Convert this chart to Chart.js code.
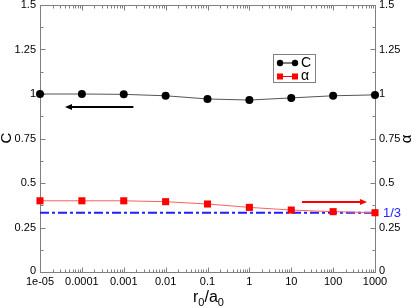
<!DOCTYPE html>
<html>
<head>
<meta charset="utf-8">
<script src="https://cdn.jsdelivr.net/npm/chart.js@4.4.1/dist/chart.umd.min.js"></script>
<style>
  html, body { margin: 0; padding: 0; background: #fff; }
  canvas { display: block; }
</style>
</head>
<body>
<canvas id="chart" width="415" height="308"></canvas>
<script>
// data
const rValues = [1e-5, 1e-4, 1e-3, 1e-2, 0.1, 1, 10, 100, 1000];
const cValues = [1.0, 1.0, 0.998, 0.99, 0.972, 0.966, 0.978, 0.99, 0.995];
const alphaValues = [0.40, 0.40, 0.40, 0.395, 0.382, 0.363, 0.348, 0.339, 0.333];
const third = 1 / 3;

const xTicks = [1e-5, 1e-4, 1e-3, 1e-2, 0.1, 1, 10, 100, 1000];
const xTickLabels = ['1e-05', '0.0001', '0.001', '0.01', '0.1', '1', '10', '100', '1000'];
const yTicks = [0, 0.25, 0.5, 0.75, 1, 1.25, 1.5];
const yTickLabels = ['0', '0.25', '0.5', '0.75', '1', '1.25', '1.5'];

// arrows: [x tail, x head, y]
const arrowC = [1.7e-3, 3.95e-5, 0.927];
const arrowAlpha = [18, 645, 0.392];

const FONT = '"Liberation Sans", Arial, Helvetica, sans-serif';
const AXIS_GREY = '#808080';

function line(ctx, x1, y1, x2, y2) {
    ctx.beginPath();
    ctx.moveTo(x1, y1);
    ctx.lineTo(x2, y2);
    ctx.stroke();
}

function arrow(ctx, x1, x2, y, color) {
    const dir = x2 > x1 ? 1 : -1;
    ctx.strokeStyle = color;
    ctx.fillStyle = color;
    ctx.lineWidth = 2;
    line(ctx, x1, y, x2 - dir * 5, y);
    ctx.beginPath();
    ctx.moveTo(x2, y);
    ctx.lineTo(x2 - dir * 7, y - 3);
    ctx.lineTo(x2 - dir * 7, y + 3);
    ctx.closePath();
    ctx.fill();
}

const framePlugin = {
    id: 'frame',
    beforeDatasetsDraw(chart) {
        const { ctx, chartArea: a, scales } = chart;
        const L = a.left + 0.5, R = a.right + 0.5, T = a.top + 0.5, B = a.bottom + 0.5;
        ctx.save();
        ctx.strokeStyle = AXIS_GREY;
        ctx.lineWidth = 1;
        ctx.strokeRect(L, T, R - L, B - T);

        // log ticks, bottom and top, pointing in
        for (let d = -5; d <= 3; d++) {
            for (let m = 1; m <= 9; m++) {
                const v = m * Math.pow(10, d);
                if (v > 1000 * 1.0001) break;
                const px = Math.round(scales.x.getPixelForValue(v)) + 0.5;
                const len = m === 1 ? 5 : 3;
                line(ctx, px, B, px, B - len);
                line(ctx, px, T, px, T + len);
            }
        }
        // linear ticks, left and right, pointing in
        for (let i = 0; i <= 12; i++) {
            const v = i * 0.125;
            const py = Math.round(scales.y.getPixelForValue(v)) + 0.5;
            const len = i % 2 === 0 ? 5 : 3;
            line(ctx, L, py, L + len, py);
            line(ctx, R, py, R - len, py);
        }
        ctx.restore();
    },
    afterDatasetsDraw(chart) {
        const { ctx, chartArea: a, scales } = chart;
        ctx.save();
        ctx.fillStyle = '#000';
        ctx.font = '11px ' + FONT;

        // x tick labels
        ctx.textAlign = 'center';
        ctx.textBaseline = 'alphabetic';
        xTicks.forEach((v, i) => {
            ctx.fillText(xTickLabels[i], scales.x.getPixelForValue(v), a.bottom + 13);
        });
        // y tick labels
        ctx.textBaseline = 'middle';
        yTicks.forEach((v, i) => {
            const py = scales.y.getPixelForValue(v) - (v === 0 ? 1 : 0);
            ctx.textAlign = 'right';
            ctx.fillText(yTickLabels[i], a.left - 4, py);
            ctx.textAlign = 'left';
            ctx.fillText(yTickLabels[i], a.right + 4, scales.y2.getPixelForValue(v) - (v === 0 ? 1 : 0));
        });

        // axis titles
        ctx.font = '15px ' + FONT;
        ctx.textAlign = 'center';
        ctx.save();
        ctx.translate(7, 138);
        ctx.rotate(-Math.PI / 2);
        ctx.fillText('C', 0, 0);
        ctx.restore();
        ctx.save();
        ctx.translate(407, 139);
        ctx.rotate(-Math.PI / 2);
        ctx.fillText('α', 0, 0);
        ctx.restore();

        // x title r0/a0
        ctx.textBaseline = 'alphabetic';
        ctx.textAlign = 'left';
        const big = '16px ' + FONT, small = '11px ' + FONT;
        const parts = [['r', big, 0], ['0', small, 4], ['/', big, 0], ['a', big, 0], ['0', small, 4]];
        let w = 0;
        parts.forEach(p => { ctx.font = p[1]; w += ctx.measureText(p[0]).width; });
        let x = (a.left + a.right) / 2 - w / 2 + 1;
        parts.forEach(p => {
            ctx.font = p[1];
            ctx.fillText(p[0], x, 302 + p[2]);
            x += ctx.measureText(p[0]).width;
        });

        // 1/3 label
        ctx.fillStyle = '#1f1fff';
        ctx.font = '13px ' + FONT;
        ctx.textBaseline = 'middle';
        ctx.fillText('1/3', a.right + 8, scales.y2.getPixelForValue(third) + 1);

        // arrows
        arrow(ctx, scales.x.getPixelForValue(arrowC[0]), scales.x.getPixelForValue(arrowC[1]),
              Math.round(scales.y.getPixelForValue(arrowC[2])), '#000');
        arrow(ctx, scales.x.getPixelForValue(arrowAlpha[0]), scales.x.getPixelForValue(arrowAlpha[1]),
              Math.round(scales.y2.getPixelForValue(arrowAlpha[2])), '#ff0000');

        // legend
        ctx.fillStyle = '#fff';
        ctx.fillRect(273.5, 54.5, 42, 28);
        ctx.strokeStyle = AXIS_GREY;
        ctx.lineWidth = 1;
        ctx.strokeRect(273.5, 54.5, 42, 28);
        ctx.strokeStyle = '#000';
        line(ctx, 280, 63, 295, 63);
        ctx.fillStyle = '#000';
        [280, 295].forEach(px => { ctx.beginPath(); ctx.arc(px, 63, 3.2, 0, Math.PI * 2); ctx.fill(); });
        ctx.strokeStyle = '#ff0000';
        line(ctx, 280, 76.5, 295, 76.5);
        ctx.fillStyle = '#ff0000';
        [280, 295].forEach(px => ctx.fillRect(px - 3, 73.5, 6, 6));
        ctx.fillStyle = '#000';
        ctx.font = '14px ' + FONT;
        ctx.textBaseline = 'middle';
        ctx.fillText('C', 301, 63);
        ctx.fillText('α', 301, 76);
        ctx.restore();
    }
};

new Chart(document.getElementById('chart'), {
    type: 'scatter',
    data: {
        datasets: [
            {
                label: 'C',
                data: rValues.map((r, i) => ({ x: r, y: cValues[i] })),
                yAxisID: 'y',
                showLine: true,
                borderColor: '#555555',
                borderWidth: 1,
                pointRadius: 4,
                pointBackgroundColor: '#000',
                pointBorderColor: '#000',
                pointBorderWidth: 0,
                clip: false
            },
            {
                label: 'α',
                data: rValues.map((r, i) => ({ x: r, y: alphaValues[i] })),
                yAxisID: 'y2',
                showLine: true,
                borderColor: '#ff6060',
                borderWidth: 1,
                pointStyle: 'rect',
                pointRadius: 5,
                pointBackgroundColor: '#ff0000',
                pointBorderColor: '#ff0000',
                pointBorderWidth: 0,
                clip: false
            },
            {
                label: '1/3',
                data: [{ x: xTicks[0], y: third }, { x: xTicks[xTicks.length - 1], y: third }],
                yAxisID: 'y2',
                showLine: true,
                borderColor: '#1f1fff',
                borderWidth: 2,
                borderDash: [9, 3, 3, 3],
                pointRadius: 0
            }
        ]
    },
    options: {
        responsive: false,
        animation: false,
        layout: { padding: { left: 40, right: 40, top: 5, bottom: 36 } },
        plugins: { legend: { display: false }, tooltip: { enabled: false } },
        scales: {
            x: { type: 'logarithmic', min: 1e-5, max: 1000, display: false },
            y: { type: 'linear', min: 0, max: 1.5, display: false },
            y2: { type: 'linear', min: 0, max: 1.5, display: false, position: 'right' }
        }
    },
    plugins: [framePlugin]
});
</script>
</body>
</html>
